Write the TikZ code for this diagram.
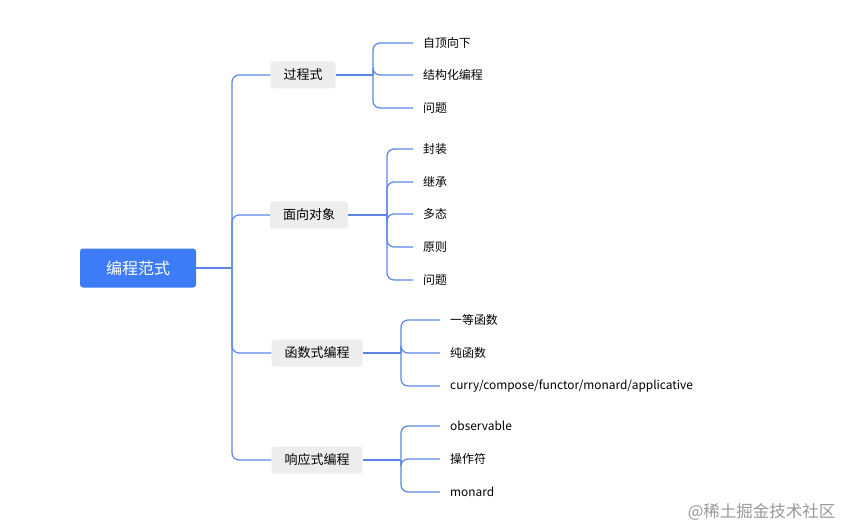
\documentclass[tikz,border=0pt]{standalone}
\usepackage{fontspec}
\setmainfont{Noto Sans CJK SC}
\begin{document}
\begin{tikzpicture}[x=1pt,y=-1pt,
  root/.style={fill=rootblue,text=white,rounded corners=3pt,minimum width=116pt,minimum height=39pt,font=\fontsize{16}{18}\selectfont},
  lone/.style={fill=lvgray,rounded corners=3pt,minimum height=27pt,inner xsep=13pt,font=\fontsize{13}{15}\selectfont},
  leaf/.style={anchor=west,inner xsep=0pt,font=\fontsize{11.9}{14}\selectfont},
  conn/.style={draw=lineblue,line width=1.2pt,rounded corners=7pt}]
\definecolor{rootblue}{HTML}{3D7BF7}
\definecolor{lvgray}{HTML}{EDEDED}
\definecolor{lineblue}{HTML}{5A86E8}
\useasboundingbox (0,0) rectangle (845,529);
\fill[white] (0,0) rectangle (845,529);
\node[root] (r) at (138,268) {编程范式};
\node[lone] (a) at (303,75) {过程式};
\node[lone] (b) at (309,215) {面向对象};
\node[lone] (c) at (317,353) {函数式编程};
\node[lone] (d) at (317,460) {响应式编程};
\coordinate (s) at (232,268);
\draw[conn] (r.east) -- (s);
\foreach \n in {a,b,c,d} \draw[conn] (s) |- (\n.west);
% leaves
\node[leaf] (a1) at (423,43) {自顶向下};
\node[leaf] (a2) at (423,75) {结构化编程};
\node[leaf] (a3) at (423,108) {问题};
\node[leaf] (b1) at (423,149) {封装};
\node[leaf] (b2) at (423,182) {继承};
\node[leaf] (b3) at (423,214) {多态};
\node[leaf] (b4) at (423,247) {原则};
\node[leaf] (b5) at (423,280) {问题};
\node[leaf] (c1) at (450,320) {一等函数};
\node[leaf] (c2) at (450,353) {纯函数};
\node[leaf] (c3) at (450,386) {curry/compose/functor/monard/applicative};
\node[leaf] (d1) at (450,426) {observable};
\node[leaf] (d2) at (450,459) {操作符};
\node[leaf] (d3) at (450,492) {monard};
\coordinate (sa) at (373,75);
\coordinate (sb) at (387,215);
\coordinate (sc) at (401,353);
\coordinate (sd) at (401,460);
\draw[conn] (a.east) -- (sa);
\draw[conn] (b.east) -- (sb);
\draw[conn] (c.east) -- (sc);
\draw[conn] (d.east) -- (sd);
\foreach \n in {a1,a2,a3} \draw[conn] (sa) |- ([xshift=-10pt]\n.west);
\foreach \n in {b1,b2,b3,b4,b5} \draw[conn] (sb) |- ([xshift=-10pt]\n.west);
\foreach \n in {c1,c2,c3} \draw[conn] (sc) |- ([xshift=-10pt]\n.west);
\foreach \n in {d1,d2,d3} \draw[conn] (sd) |- ([xshift=-10pt]\n.west);
\node[text=gray!80,font=\fontsize{16.5}{18}\selectfont,anchor=east] (w) at (839,512) {@稀土掘金技术社区};
\end{tikzpicture}
\end{document}
